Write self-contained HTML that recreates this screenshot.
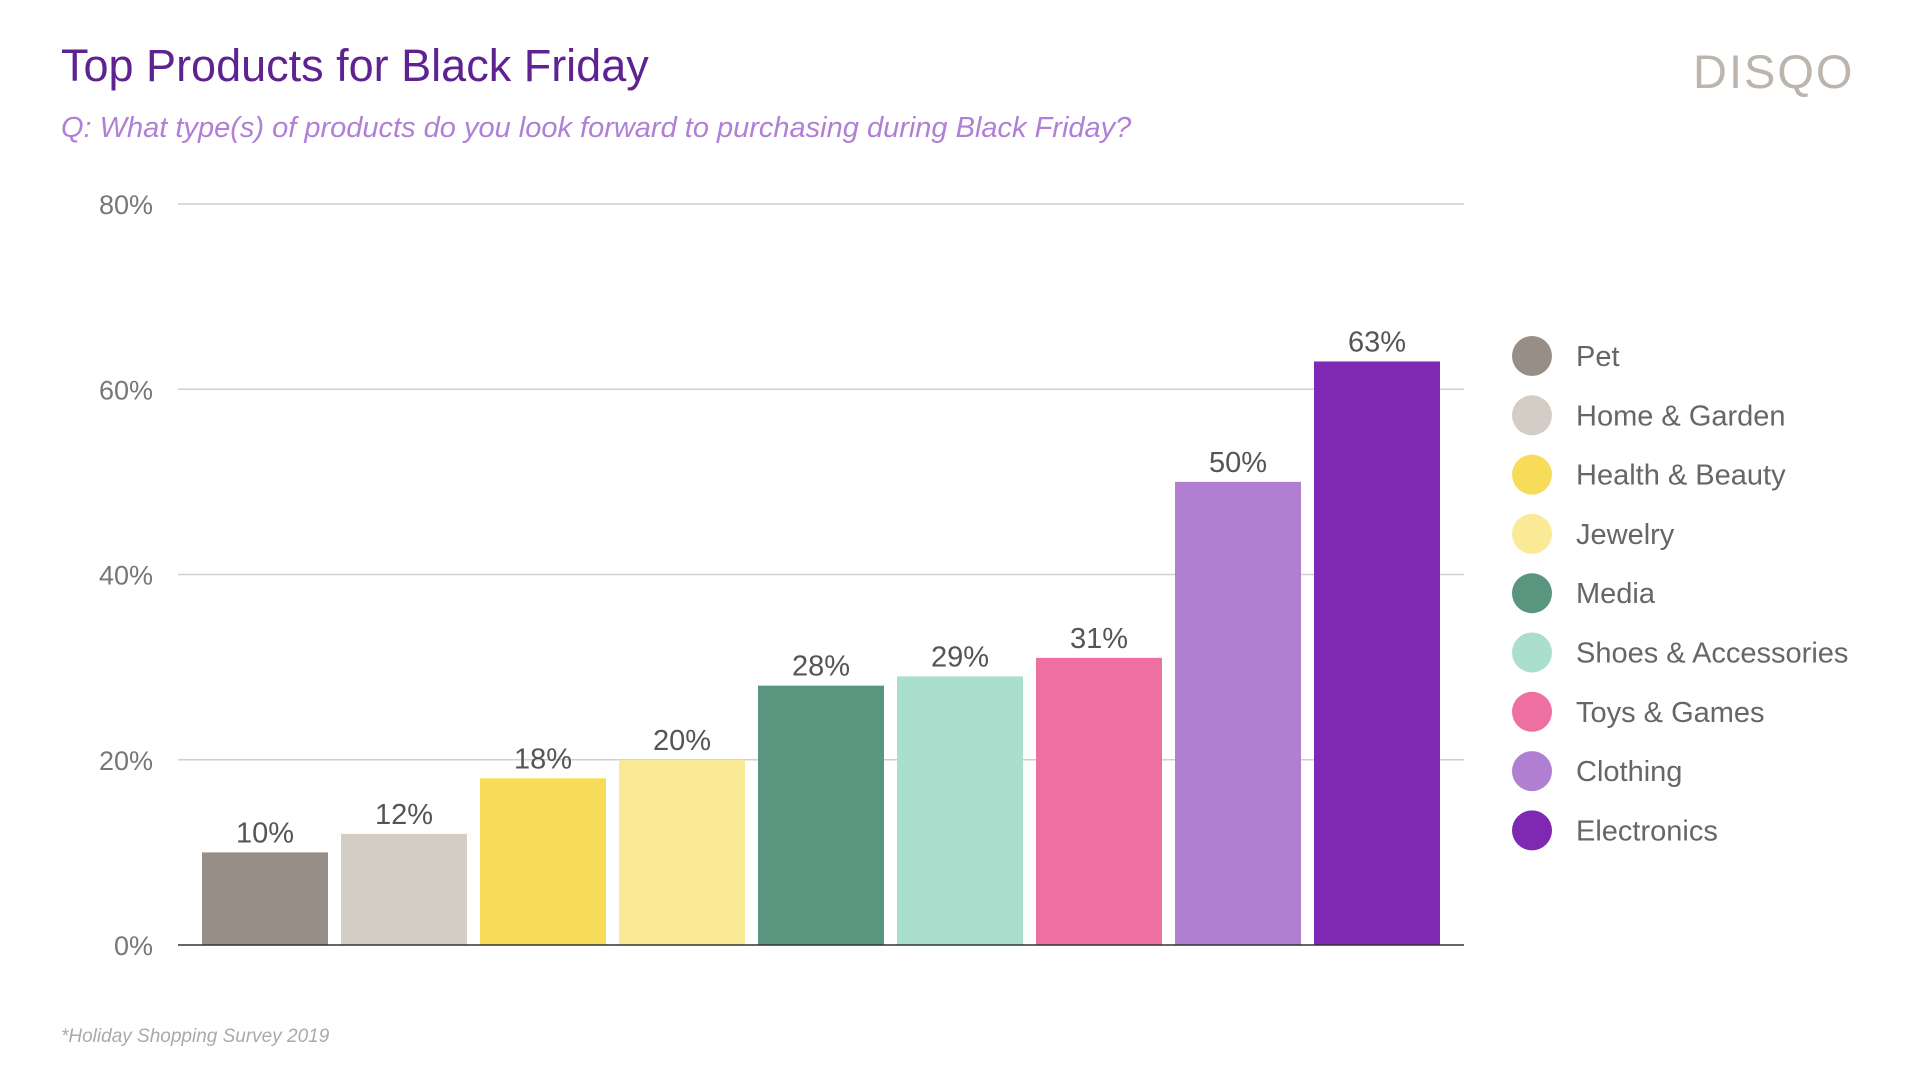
<!DOCTYPE html>
<html><head><meta charset="utf-8">
<style>
html,body{margin:0;padding:0;background:#fff;}
body{width:1920px;height:1080px;position:relative;overflow:hidden;font-family:"Liberation Sans",sans-serif;}
.title{position:absolute;left:61px;top:40px;font-size:45px;color:#5e2391;}
.sub{position:absolute;left:61px;top:112px;font-size:29px;color:#b07fd6;font-style:italic;}
.logo{position:absolute;left:1693px;top:44px;font-size:47px;color:#bcb5ad;letter-spacing:2px;}
.foot{position:absolute;left:61px;top:1026px;font-size:19px;color:#aaa;font-style:italic;}
</style></head><body>
<div class="title">Top Products for Black Friday</div>
<div class="sub">Q: What type(s) of products do you look forward to purchasing during Black Friday?</div>
<div class="logo">DISQO</div>
<div class="foot">*Holiday Shopping Survey 2019</div>
<svg id="chart" width="1920" height="1080" style="position:absolute;left:0;top:0"></svg>
<script>
const categories=["Pet","Home & Garden","Health & Beauty","Jewelry","Media","Shoes & Accessories","Toys & Games","Clothing","Electronics"];
const values=[10,12,18,20,28,29,31,50,63];
const colors=["#978f87","#d4cdc6","#f7dc5a","#fbea95","#5a967f","#a9dfcc","#ed70a0","#b07fd2","#7e28b3"];
const ticks=[0,20,40,60,80];
const svg=document.getElementById('chart');
const NS='http://www.w3.org/2000/svg';
const x0=178,x1=1464,yBase=945,yTop=204,yMax=80;
const y=v=>yBase-(v/yMax)*(yBase-yTop);
const pitch=139,bw=126,bx0=202;
const xb=i=>bx0+i*pitch;
function mk(t,a){const e=document.createElementNS(NS,t);for(const k in a)e.setAttribute(k,a[k]);svg.appendChild(e);return e;}
ticks.forEach(t=>{
  if(t>0){const l=mk('line',{x1:x0,x2:x1,y1:y(t),y2:y(t),stroke:'#cfcfcf','stroke-width':1.5});
  
  }
  const tx=mk('text',{x:153,y:y(t)+10,'text-anchor':'end','font-size':27,fill:'#777','font-family':'Liberation Sans, sans-serif'});
  tx.textContent=t+'%';
  
  
});
values.forEach((v,i)=>{
  const r=mk('rect',{x:xb(i),y:y(v),width:bw,height:yBase-y(v),fill:colors[i]});
  
  
  const t=mk('text',{x:xb(i)+bw/2,y:y(v)-10,'text-anchor':'middle','font-size':29,fill:'#555','font-family':'Liberation Sans, sans-serif'});
  t.textContent=v+'%';
  
  
});
const base=mk('line',{x1:x0,x2:x1,y1:yBase,y2:yBase,stroke:'#333','stroke-width':1.5});


categories.forEach((c,i)=>{
  const cy=356+i*59.3;
  const g=document.createElementNS(NS,'g');svg.appendChild(g);
  
  
  const ci=document.createElementNS(NS,'circle');
  ci.setAttribute('cx',1532);ci.setAttribute('cy',cy);ci.setAttribute('r',20);ci.setAttribute('fill',colors[i]);
  
  
  g.appendChild(ci);
  const t=document.createElementNS(NS,'text');
  t.setAttribute('x',1576);t.setAttribute('y',cy+10);t.setAttribute('font-size',29);t.setAttribute('fill','#666');t.setAttribute('font-family','Liberation Sans, sans-serif');
  t.textContent=c;
  
  
  g.appendChild(t);
});
</script>
</body></html>
